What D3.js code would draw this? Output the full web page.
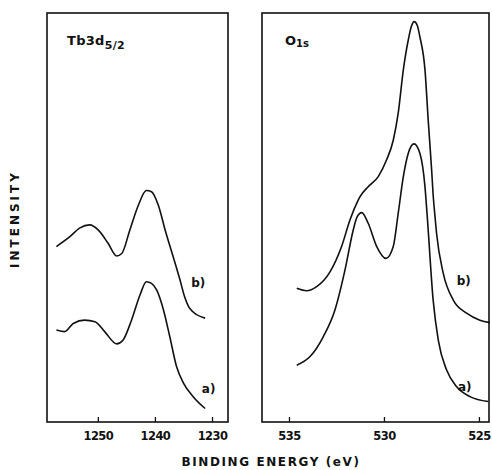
<!DOCTYPE html>
<html>
<head>
<meta charset="utf-8">
<script src="https://cdn.jsdelivr.net/npm/d3@7"></script>
<style>
  body { margin: 0; background: #fff; }
  text { font-family: "DejaVu Sans", sans-serif; font-weight: bold; fill: #111; }
</style>
</head>
<body>
<svg id="chart" width="492" height="470"></svg>
<script>
// Tb 3d5/2 panel, binding energy (eV) vs intensity (arb. units)
var tbTicks = [1250, 1240, 1230];
var tbB_E = [1257.25, 1254.9, 1253.2, 1251.4, 1249.9, 1248.2, 1246.7, 1245.8, 1244.4, 1242.9, 1241.5, 1240.6, 1239.4, 1238.2, 1236.8, 1235.6, 1234.8, 1234.1, 1233.3, 1231.2];
var tbB_I = [42.9, 45.3, 47.4, 48.2, 46.9, 43.7, 40.6, 41.2, 46.9, 53.0, 56.6, 56.3, 53.0, 46.9, 40.4, 34.7, 30.6, 28.2, 26.9, 25.4];
var tbA_E = [1257.25, 1255.8, 1254.3, 1252.3, 1250.5, 1248.8, 1246.7, 1245.6, 1244.1, 1242.6, 1241.5, 1240.6, 1239.7, 1238.5, 1237.4, 1236.2, 1235.0, 1233.3, 1231.2];
var tbA_I = [22.5, 22.1, 24.1, 24.9, 24.5, 22.1, 19.1, 20.0, 24.9, 31.1, 34.3, 33.9, 32.3, 27.4, 20.9, 13.5, 9.5, 6.2, 3.3];

// O 1s panel
var oTicks = [535, 530, 525];
var oB_E = [534.59, 534.07, 533.54, 532.84, 532.23, 531.79, 531.35, 531.26, 530.83, 530.30, 529.86, 529.51, 529.25, 528.98, 528.72, 528.55, 528.41, 528.25, 528.11, 527.84, 527.67, 527.49, 527.41, 527.32, 527.23, 526.88, 526.35, 525.65, 524.95, 524.42];
var oB_I = [32.7, 32.1, 33.1, 36.7, 42.9, 49.4, 54.3, 55.1, 57.5, 60.0, 64.1, 68.9, 75.5, 86.1, 93.4, 96.8, 97.9, 97.0, 94.2, 86.1, 73.8, 61.6, 55.5, 50.6, 46.1, 36.4, 29.8, 26.6, 24.9, 24.3];
var oA_E = [534.59, 533.89, 533.19, 532.58, 532.05, 531.62, 531.42, 531.17, 530.83, 530.38, 529.89, 529.51, 529.25, 528.98, 528.72, 528.42, 528.11, 527.84, 527.72, 527.41, 527.14, 526.70, 526.17, 525.47, 524.51];
var oA_I = [13.9, 16.0, 20.9, 27.4, 37.2, 46.9, 50.1, 51.2, 48.6, 42.9, 40.0, 42.9, 51.0, 60.0, 65.7, 68.0, 65.7, 57.5, 50.2, 29.8, 20.0, 12.7, 8.6, 6.2, 5.0];

var svg = d3.select('#chart');
var plotTop = 13, plotBottom = 422;

var y = d3.scaleLinear().domain([0, 100]).range([plotBottom, plotTop]);

function zip(E, I){ return E.map((e, i) => [e, I[i]]); }

function drawPanel(left, right, domain, ticks, series, labels){
	var x = d3.scaleLinear().domain(domain).range([left, right]);
	var g = svg.append('g');
	g.append('rect')
		.attr('x', left).attr('y', plotTop)
		.attr('width', right - left).attr('height', plotBottom - plotTop)
		.attr('fill', 'none').attr('stroke', '#111').attr('stroke-width', 1.6);

	var axis = d3.axisBottom(x).tickValues(ticks).tickFormat(d3.format('d'))
		.tickSizeInner(-5).tickSizeOuter(0).tickPadding(10);
	var ax = g.append('g').attr('transform', `translate(0,${plotBottom})`).call(axis);
	ax.select('.domain').remove();
	ax.selectAll('line').attr('stroke', '#111').attr('stroke-width', 1.3);
	ax.selectAll('text').attr('font-size', 11.5).attr('letter-spacing', -0.6)
		.attr('font-family', '"DejaVu Sans", sans-serif').attr('font-weight', 'bold').attr('fill', '#111');

	var line = d3.line()
		.x(d => x(d[0])).y(d => y(d[1]))
		.curve(d3.curveMonotoneX);
	series.forEach(s => {
		g.append('path').datum(s)
			.attr('d', line)
			.attr('fill', 'none').attr('stroke', '#111').attr('stroke-width', 1.6);
	});
	labels.forEach(l => {
		g.append('text')
			.attr('x', x(l.e)).attr('y', y(l.i))
			.attr('font-size', 12).attr('text-anchor', 'middle')
			.text(l.t);
	});
	return x;
}

drawPanel(47, 228, [1258.9, 1227.2], tbTicks,
	[zip(tbB_E, tbB_I), zip(tbA_E, tbA_I)],
	[{t: 'b)', e: 1232.4, i: 32.9}, {t: 'a)', e: 1230.6, i: 7.1}]);

drawPanel(262, 489, [536.42, 524.47], oTicks,
	[zip(oB_E, oB_I), zip(oA_E, oA_I)],
	[{t: 'b)', e: 525.8, i: 33.6}, {t: 'a)', e: 525.75, i: 7.7}]);

// panel titles
var t1 = svg.append('text').attr('x', 67).attr('y', 45).attr('font-size', 13).attr('letter-spacing', 0.3);
t1.append('tspan').text('Tb3d');
t1.append('tspan').attr('dy', 4).attr('font-size', 11).text('5/2');

var t2 = svg.append('text').attr('x', 285).attr('y', 45).attr('font-size', 13);
t2.append('tspan').text('O');
t2.append('tspan').attr('dy', 2).attr('font-size', 10).text('1s');

// axis titles
svg.append('text')
	.attr('x', 271).attr('y', 466)
	.attr('font-size', 12).attr('letter-spacing', 1.6).attr('text-anchor', 'middle')
	.text('BINDING ENERGY (eV)');

svg.append('text')
	.attr('transform', 'translate(19,219) rotate(-90)')
	.attr('font-size', 12).attr('letter-spacing', 3).attr('text-anchor', 'middle')
	.text('INTENSITY');
</script>
</body>
</html>
